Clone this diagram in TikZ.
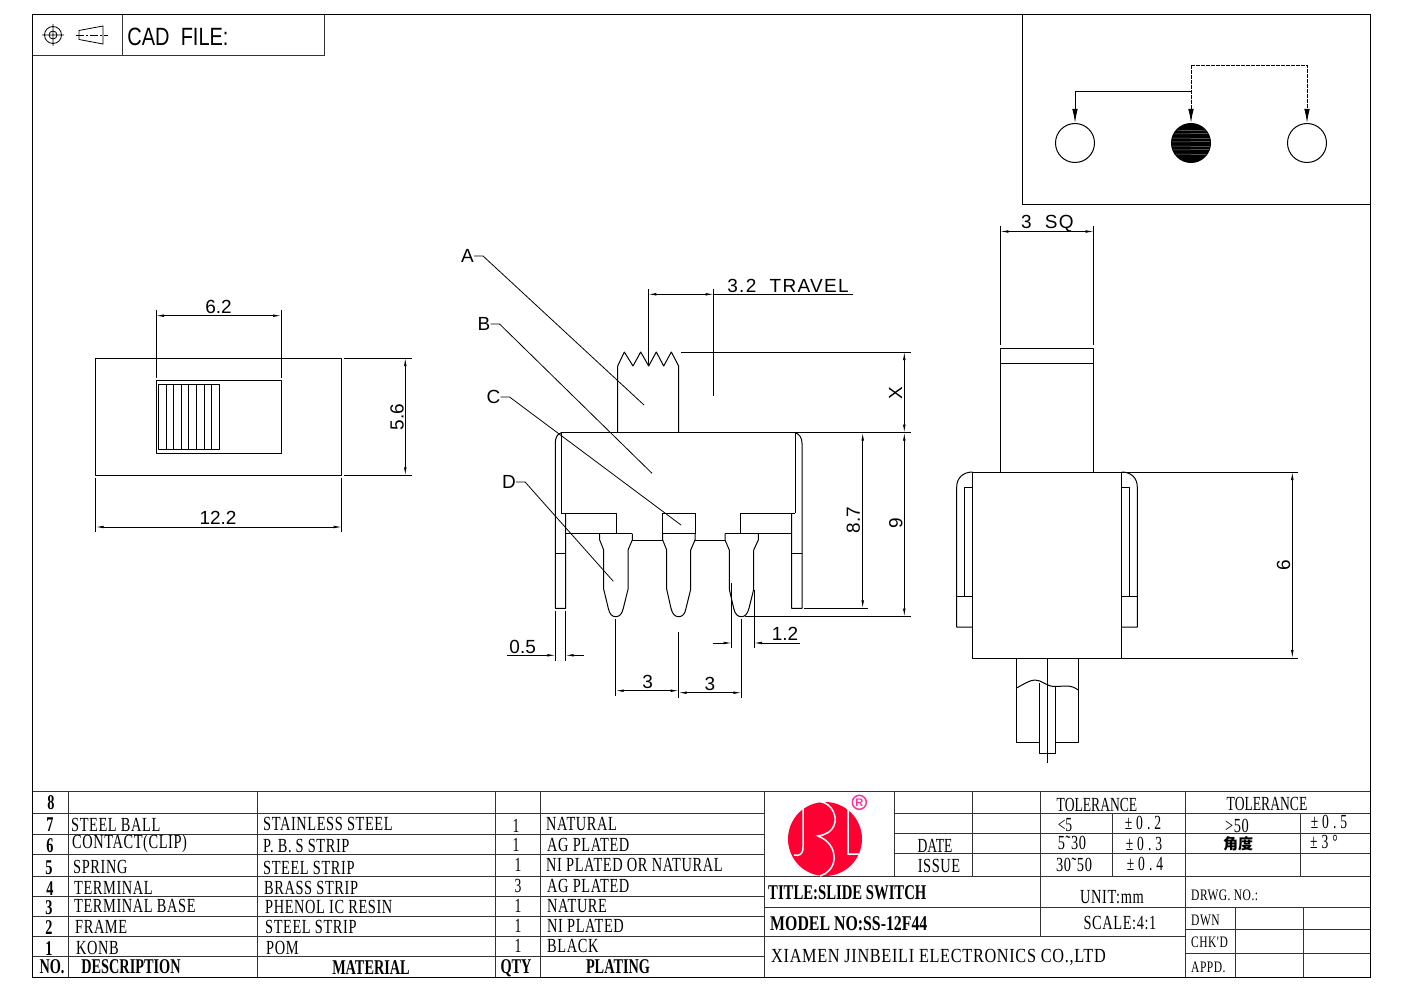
\documentclass[tikz,border=0pt]{standalone}
\usepackage{fontspec}
\usepackage{tikz}
\usetikzlibrary{arrows.meta}
\newfontfamily\tblfont[FakeStretch=0.68]{Liberation Serif}
\newfontfamily\tblwide[FakeStretch=0.72,LetterSpace=3]{Liberation Serif}
\newfontfamily\tblspread[FakeStretch=0.68,LetterSpace=20]{Liberation Serif}
\newfontfamily\cadfont{Liberation Sans}
\newfontfamily\cadwide[LetterSpace=7]{Liberation Sans}
\newfontfamily\cadnarrow[FakeStretch=0.8]{Liberation Sans}
\newfontfamily\cjkfont{Noto Sans CJK SC}
\definecolor{logored}{HTML}{FF0033}
\definecolor{logopink}{HTML}{FF3399}
\definecolor{gridgray}{HTML}{333333}
\tikzset{
  part/.style={line width=1pt,black,line join=round},
  thinpart/.style={line width=.8pt,black},
  dimline/.style={line width=.7pt,black,<->},
  dimarrow/.style={line width=.7pt,black,->},
  extline/.style={line width=.7pt,black},
  grid/.style={line width=1pt,gridgray},
  wire/.style={line width=.9pt,black},
  dimtext/.style={font=\cadfont\fontsize{19}{19}\selectfont,inner sep=0pt},
  celltext/.style={font=\tblwide\fontsize{20}{20}\selectfont,inner sep=0pt,anchor=west},
  cellmid/.style={font=\tblfont\fontsize{20}{20}\selectfont,inner sep=0pt},
  cellwide/.style={font=\tblwide\fontsize{20}{20}\selectfont,inner sep=0pt},
  cellspread/.style={font=\tblspread\fontsize{20}{20}\selectfont,inner sep=0pt},
  cellsmall/.style={font=\tblwide\fontsize{16}{16}\selectfont,inner sep=0pt,anchor=west},
  cellbold/.style={font=\tblfont\bfseries\fontsize{21}{21}\selectfont,inner sep=0pt},
  pin/.style={draw,circle,line width=1pt,minimum size=39pt,inner sep=0pt},
}
\begin{document}
\begin{tikzpicture}[x=1pt,y=-1pt,>={Latex[length=8pt,width=2.6pt]}]
    \useasboundingbox (0,0) rectangle (1403,992);
    % outer frame
    \draw[line width=1pt] (32.5,15) rectangle (1370,977);

    % cad box
    \draw[grid] (33,56) -- (324,56) -- (324,15)
    (122,15) -- (122,56);
    \node (cadTxt) at (178,37) [font=\cadnarrow\fontsize{25}{25}\selectfont,inner sep=0pt] {CAD\ \ FILE:};
    \draw[thinpart] (53,35) circle (8.5pt) (53,35) circle (4pt)
    (42,35) -- (64,35) (53,24) -- (53,46);
    \draw[thinpart] (79,30.5) -- (103,26) -- (103,44) -- (79,39.5) -- cycle;
    \draw[thinpart,dash pattern=on 8pt off 2pt on 2pt off 2pt] (76,35) -- (108,35);

    % schematic box
    \draw[line width=1pt] (1022,15) -- (1022,205) -- (1370,205);
    \node (pinL) at (1075,143) [pin] {};
    \node (pinM) at (1191,143) [pin,fill=black] {};
    \node (pinR) at (1307,143) [pin] {};
    \begin{scope}
      \clip (pinM) circle (19pt);
      \draw[line width=.5pt,gray]
      (1170,130) -- (1212,131) (1170,134) -- (1212,133.5) (1170,138) -- (1212,138.5)
      (1170,142) -- (1212,141.5) (1170,146) -- (1212,146.5) (1170,150) -- (1212,149.5)
      (1170,154) -- (1212,154.5);
    \end{scope}
    \coordinate (jctLow) at (1191,91);
    \coordinate (jctHigh) at (1191,65);
    \draw[wire,-{Latex[length=14pt,width=5.5pt]}] (jctLow) -| (pinL.north);
    \draw[wire,dash pattern=on 4pt off 1pt,-{Latex[length=14pt,width=5.5pt]}] (jctHigh) -- (pinM.north);
    \draw[wire,dash pattern=on 4pt off 1pt,-{Latex[length=14pt,width=5.5pt]}] (jctHigh) -| (pinR.north);

    % top view
    \draw[part] (95.7,358) rectangle (341.7,475.3);
    \draw[part] (156,380.3) rectangle (281,453.3);
    \draw[part] (158.3,384.3) rectangle (219,449.7);
    \draw[thinpart]
    (166,384.3) -- (166,449.7)
    (173.7,384.3) -- (173.7,449.7)
    (181.3,384.3) -- (181.3,449.7)
    (188.7,384.3) -- (188.7,449.7)
    (196.3,384.3) -- (196.3,449.7)
    (204,384.3) -- (204,449.7)
    (211.7,384.3) -- (211.7,449.7);
    \draw[extline]
    (156,310) -- (156,377.7)
    (281,310) -- (281,377.7)
    (344,358) -- (411.7,358)
    (344,475.3) -- (411.7,475.3)
    (95.7,477.7) -- (95.7,532)
    (341.7,477.7) -- (341.7,532);
    \draw[dimline] (156,315.7) -- (281,315.7);
    \draw[dimline] (405.3,358) -- (405.3,475.3);
    \draw[dimline] (95.7,527) -- (341.7,527);
    \node (dimSixTwo) at (218.5,307) [dimtext] {6.2};
    \node (dimFiveSix) at (397,417) [dimtext,rotate=90] {5.6};
    \node (dimTwelve) at (218,518) [dimtext] {12.2};

    % front view
    \draw[part] (617.7,432.7) -- (617.7,366) -- (624.3,352) -- (633,366) -- (640.7,352) -- (648.7,366)
    -- (656.3,352) -- (663.7,366) -- (671.3,352) -- (678.7,366) -- (678.7,432.7);
    \draw[part] (561.3,513) -- (561.3,432.7) -- (795,432.7) -- (795,513);
    \draw[part] (561.3,432.7) .. controls (557,434) and (555.3,438) .. (555.3,443.3) -- (555.3,608.3)
    -- (565.7,608.3) -- (565.7,513);
    \draw[part] (795,432.7) .. controls (799.5,434) and (802,438) .. (802,443.3) -- (802,608.3)
    -- (791.7,608.3) -- (791.7,513);
    \draw[part] (555.3,553.3) -- (565.7,553.3) (791.7,553.3) -- (802,553.3);
    \draw[part] (561.3,513) -- (616.3,513) -- (616.3,533.7)
    (565.7,533.7) -- (632.3,533.7)
    (632.3,540) -- (662.7,540)
    (695,540) -- (725,540)
    (725,533.7) -- (791.7,533.7)
    (740.7,533.7) -- (740.7,513) -- (795,513)
    (662.7,513) rectangle (695,533.7);
    \draw[part] (599.7,533.7) -- (599.7,540) -- (603.7,550) -- (603.7,589.3) -- (608.3,608.3)
    .. controls (609.5,614) and (612,616.7) .. (615.7,616.7) .. controls (619.5,616.7) and (622,614) .. (623.3,608.3)
    -- (628,589.3) -- (628,550) -- (632.3,540) -- (632.3,533.7);
    \draw[part] (662.7,533.7) -- (662.7,540) -- (666.7,550) -- (666.7,589.3) -- (671,608.3)
    .. controls (672.3,614) and (675,616.7) .. (678.7,616.7) .. controls (682.5,616.7) and (685,614) .. (686,608.3)
    -- (690.7,589.3) -- (690.7,550) -- (695,540) -- (695,533.7);
    \draw[part] (725,533.7) -- (725,540) -- (729.3,550) -- (729.3,589.3) -- (733.7,608.3)
    .. controls (735,614) and (737.5,616.7) .. (741.3,616.7) .. controls (745,616.7) and (747.5,614) .. (749,608.3)
    -- (753.7,589.3) -- (753.7,550) -- (758.3,540) -- (758.3,533.7);

    \node (lblA) at (467.5,256) [dimtext] {A};
    \node (lblB) at (484,324) [dimtext] {B};
    \node (lblC) at (493.5,397) [dimtext] {C};
    \node (lblD) at (509,482) [dimtext] {D};
    \coordinate (tipA) at (644,405);
    \coordinate (tipB) at (652,473.3);
    \coordinate (tipC) at (681,525);
    \coordinate (tipD) at (613.3,581.3);
    \draw[thinpart] (lblA.east) -- ++(9,0) -- (tipA);
    \draw[thinpart] (lblB.east) -- ++(9,0) -- (tipB);
    \draw[thinpart] (lblC.east) -- ++(9,0) -- (tipC);
    \draw[thinpart] (lblD.east) -- ++(9,0) -- (tipD);

    \draw[extline]
    (648.3,289.3) -- (648.3,366)
    (713.7,289.3) -- (713.7,395.7)
    (713.7,294.3) -- (852.7,294.3)
    (681,352) -- (910.7,352)
    (795,432.7) -- (910.7,432.7)
    (745,616.5) -- (910.7,616.5)
    (804,608.3) -- (868.3,608.3)
    (555.3,610.7) -- (555.3,661)
    (565.7,610.7) -- (565.7,661)
    (731.7,583) -- (731.7,648)
    (754,590) -- (754,648)
    (615.7,619) -- (615.7,696)
    (678.7,632.3) -- (678.7,698.3)
    (741.3,619) -- (741.3,698.3);
    \draw[dimline] (648.3,294.3) -- (713.7,294.3);
    \draw[dimline] (904.3,352) -- (904.3,432.7);
    \draw[dimline] (904.3,432.7) -- (904.3,616.5);
    \draw[dimline] (862.7,432.7) -- (862.7,608.3);
    \draw[dimarrow] (507.3,655.3) -- (555.3,655.3);
    \draw[dimarrow] (584,655.3) -- (565.7,655.3);
    \draw[dimarrow] (713.3,643) -- (731.7,643);
    \draw[dimarrow] (800,643) -- (754,643);
    \draw[dimline] (615.7,690.7) -- (678.7,690.7);
    \draw[dimline] (678.7,692.7) -- (741.3,692.7);
    \node (dimTravel) at (788,286) [dimtext,font=\cadwide\fontsize{19}{19}\selectfont] {3.2\ \ TRAVEL};
    \node (dimX) at (895.7,392.7) [dimtext,rotate=90] {X};
    \node (dimNine) at (895.7,523.3) [dimtext,rotate=90] {9};
    \node (dimEight) at (853.3,520) [dimtext,rotate=90] {8.7};
    \node (dimHalf) at (522.7,646.7) [dimtext] {0.5};
    \node (dimOneTwo) at (785,634.3) [dimtext] {1.2};
    \node (dimPitchL) at (647.7,681.7) [dimtext] {3};
    \node (dimPitchR) at (710,684) [dimtext] {3};

    % side view
    \draw[part] (972.7,472) rectangle (1121.7,658);
    \draw[part] (1000.3,472) -- (1000.3,348) -- (1093.7,348) -- (1093.7,472)
    (1000.3,363.5) -- (1093.7,363.5);
    \draw[part] (972.7,472) .. controls (963,472) and (956.7,478) .. (956.7,487) -- (956.7,627) -- (972.7,627);
    \draw[part] (1121.7,472) .. controls (1131,472) and (1137.3,478) .. (1137.3,487) -- (1137.3,627) -- (1121.7,627);
    \draw[part] (972.7,487) -- (964.3,487) -- (964.3,596)
    (956.7,596) -- (972.7,596)
    (1121.7,487) -- (1129.7,487) -- (1129.7,596)
    (1121.7,596) -- (1137.3,596);
    \draw[part] (1016,658) -- (1016,742.7) -- (1039.3,742.7) -- (1039.3,753.5) -- (1055,753.5) -- (1055,742.7) -- (1078.3,742.7) -- (1078.3,658);
    \draw[part] (1016,688.3) .. controls (1024,684) and (1030,680) .. (1035,680)
    .. controls (1042,680) and (1046,686.5) .. (1055,686.5)
    .. controls (1064,686.5) and (1070,684) .. (1078.3,690);
    \draw[part] (1039.3,683) -- (1039.3,742.7) (1055,686.5) -- (1055,742.7);
    \draw[thinpart] (1047,658) -- (1047,763);

    \draw[extline]
    (1000.3,226) -- (1000.3,345)
    (1093.7,226) -- (1093.7,345)
    (1121.7,472) -- (1298.3,472)
    (1121.7,658) -- (1298.3,658);
    \draw[dimline] (1000.3,231.5) -- (1093.7,231.5);
    \draw[dimline] (1292.3,472) -- (1292.3,658);
    \node (dimSq) at (1047.3,223.5) [dimtext,font=\cadwide\fontsize{19}{19}\selectfont] {3\ \ SQ};
    \node (dimSix) at (1283.5,565) [dimtext,rotate=90] {6};

    % bom table
    \draw[grid] (33,791) -- (1370,791)
    (33,813.5) -- (764,813.5)
    (33,834) -- (764,834)
    (33,854.5) -- (764,854.5)
    (33,876) -- (764,876)
    (33,896) -- (764,896)
    (33,916) -- (764,916)
    (33,936) -- (764,936)
    (33,956) -- (764,956)
    (68,791) -- (68,977)
    (257,791) -- (257,977)
    (495,791) -- (495,977)
    (540,791) -- (540,977)
    (764,791) -- (764,977);

    % title block
    \draw[grid] (894,813.5) -- (1370,813.5)
    (894,833.5) -- (1370,833.5)
    (894,853.5) -- (1370,853.5)
    (764,876.5) -- (1370,876.5)
    (764,907) -- (1370,907)
    (764,936) -- (1185,936)
    (1185,929) -- (1370,929)
    (1185,953) -- (1370,953)
    (894,791) -- (894,876.5)
    (972,791) -- (972,876.5)
    (1040,791) -- (1040,936)
    (1112,813.5) -- (1112,876.5)
    (1185,791) -- (1185,977)
    (1300,813.5) -- (1300,876.5)
    (1235,907) -- (1235,977)
    (1303,907) -- (1303,977);

    % logo
    \fill[logored] (825,839) circle (37pt);
    \draw[white,line width=1.5pt]
    (803,807) -- (803,847) .. controls (803,855) and (799,856) .. (794,855)
    (820,801.5) .. controls (834,804) and (836,818) .. (835,822)
    .. controls (833,832) and (825,835) .. (818,836)
    .. controls (828,840) and (835,848) .. (834,860)
    .. controls (833,868) and (827,874) .. (820,876)
    (848,808) -- (848,854) -- (859,854);
    \draw[logopink,line width=1.5pt] (859.3,802.3) circle (7pt);
    \node (logoR) at (859.3,802.5) [font=\cadfont\bfseries\fontsize{11}{11}\selectfont,text=logopink,inner sep=0pt] {R};

    % bom text
    \node (noEight) at (51,803) [cellbold] {8};
    \node (noSeven) at (50,825) [cellbold] {7};
    \node (noSix) at (50,846) [cellbold] {6};
    \node (noFive) at (49,868) [cellbold] {5};
    \node (noFour) at (50,889) [cellbold] {4};
    \node (noThree) at (49,908) [cellbold] {3};
    \node (noTwo) at (49,928) [cellbold] {2};
    \node (noOne) at (49,949) [cellbold] {1};
    \node (noHead) at (52,967) [cellbold] {NO.};

    \node (descBall) at (71,825) [celltext] {STEEL BALL};
    \node (descClip) at (72,844) [celltext] {CONTACT(CLIP)};
    \node (descSpring) at (73,867) [celltext] {SPRING};
    \node (descTerm) at (74,888) [celltext] {TERMINAL};
    \node (descBase) at (74,906) [celltext] {TERMINAL BASE};
    \node (descFrame) at (75,927) [celltext] {FRAME};
    \node (descKnob) at (76,948) [celltext] {KONB};
    \node (descHead) at (131,967) [cellbold] {DESCRIPTION};

    \node (matBall) at (263,824) [celltext] {STAINLESS STEEL};
    \node (matClip) at (263,846) [celltext] {P.\hspace{4pt}B.\hspace{4pt}S STRIP};
    \node (matSpring) at (263,868) [celltext] {STEEL STRIP};
    \node (matTerm) at (264,888) [celltext] {BRASS STRIP};
    \node (matBase) at (265,907) [celltext] {PHENOL IC RESIN};
    \node (matFrame) at (265,927) [celltext] {STEEL STRIP};
    \node (matKnob) at (266,948) [celltext] {POM};
    \node (matHead) at (371,968) [cellbold] {MATERIAL};

    \node (qtyBall) at (516,826) [cellmid] {1};
    \node (qtyClip) at (516,845) [cellmid] {1};
    \node (qtySpring) at (518,865) [cellmid] {1};
    \node (qtyTerm) at (518,886) [cellmid] {3};
    \node (qtyBase) at (518,906) [cellmid] {1};
    \node (qtyFrame) at (518,926) [cellmid] {1};
    \node (qtyKnob) at (518,946) [cellmid] {1};
    \node (qtyHead) at (516,968) [cellbold] {QTY};

    \node (platBall) at (546,824) [celltext] {NATURAL};
    \node (platClip) at (547,845) [celltext] {AG PLATED};
    \node (platSpring) at (546,865) [celltext] {NI PLATED OR NATURAL};
    \node (platTerm) at (547,886) [celltext] {AG PLATED};
    \node (platBase) at (547,906) [celltext] {NATURE};
    \node (platFrame) at (547,926) [celltext] {NI PLATED};
    \node (platKnob) at (547,946) [celltext] {BLACK};
    \node (platHead) at (618,967) [cellbold] {PLATING};

    % title block text
    \node (tolLeft) at (1097,805) [cellmid] {TOLERANCE};
    \node (tolRight) at (1267,804) [cellmid] {TOLERANCE};
    \node (tolLow) at (1065,825) [cellmid] {<5};
    \node (tolLowVal) at (1143,823) [cellspread] {±0.2};
    \node (tolMid) at (1072,843) [cellwide] {5˜30};
    \node (tolMidVal) at (1144,844) [cellspread] {±0.3};
    \node (tolHigh) at (1074,865) [cellwide] {30˜50};
    \node (tolHighVal) at (1145,864) [cellspread] {±0.4};
    \node (tolOver) at (1237,826) [cellwide] {>50};
    \node (tolOverVal) at (1329,822) [cellspread] {±0.5};
    \node (angName) at (1238,844) [font=\cjkfont\bfseries\fontsize{15}{15}\selectfont,inner sep=0pt] {角度};
    \node (angVal) at (1324,842) [cellspread] {±3°};
    \node (dateTxt) at (935,846) [cellmid] {DATE};
    \node (issueTxt) at (939,866) [cellwide] {ISSUE};
    \node (titleTxt) at (768,893) [cellbold,anchor=west,xscale=1.03,transform shape] {TITLE:SLIDE SWITCH};
    \node (modelTxt) at (770,924) [cellbold,anchor=west,xscale=1.11,transform shape] {MODEL NO:SS-12F44};
    \node (unitTxt) at (1112,897) [cellwide] {UNIT:mm};
    \node (scaleTxt) at (1120,923) [cellwide] {SCALE:4:1};
    \node (companyTxt) at (771,957) [celltext,xscale=1.13,transform shape] {XIAMEN JINBEILI ELECTRONICS CO.,LTD};
    \node (drwgTxt) at (1191,895) [cellsmall] {DRWG. NO.:};
    \node (dwnTxt) at (1191,920) [cellsmall] {DWN};
    \node (chkTxt) at (1191,942) [cellsmall] {CHK'D};
    \node (appdTxt) at (1191,967) [cellsmall] {APPD.};
\end{tikzpicture}
\end{document}
